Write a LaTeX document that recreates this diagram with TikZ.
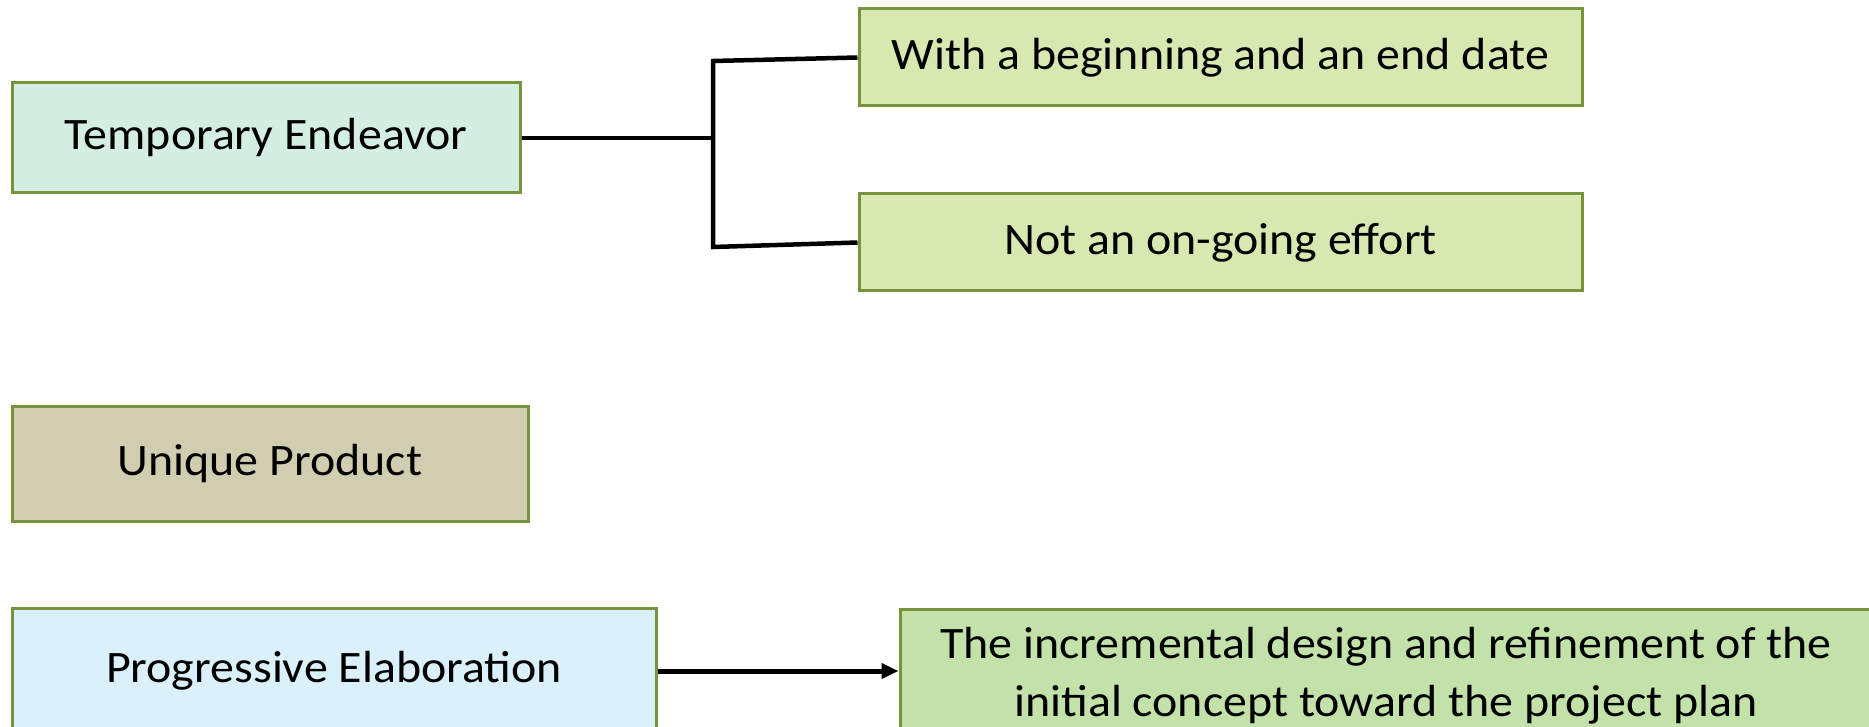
\documentclass[tikz,border=0pt]{standalone}
\usepackage{fontspec}
\setmainfont{Carlito}[FakeStretch=1.065]
\usetikzlibrary{arrows.meta}
\definecolor{boxline}{HTML}{77933C}
\definecolor{tempfill}{HTML}{D4EFE1}
\definecolor{datefill}{HTML}{D7E8B0}
\definecolor{uniqfill}{HTML}{D1CDB1}
\definecolor{progfill}{HTML}{DAF0FB}
\definecolor{incrfill}{HTML}{C2E2A9}

\begin{document}
\begin{tikzpicture}[x=1pt, y=1pt,
		box/.style={draw=boxline, line width=3pt, inner sep=0pt, align=center, font=\fontsize{45}{58}\selectfont},
		link/.style={line width=4.5pt, line join=miter}]
		\useasboundingbox (0, 0) rectangle (1869, -727);
		\node[box, fill=tempfill, minimum width=508pt, minimum height=110pt] (temp) at (266, -138) {Temporary Endeavor};
		\node[box, fill=datefill, minimum width=723pt, minimum height=97pt] (begin) at (1220.5, -57.5) {With a beginning and an end date};
		\node[box, fill=datefill, minimum width=723pt, minimum height=97pt] (ongoing) at (1220.5, -242.5) {Not an on-going effort};
		\node[box, fill=uniqfill, minimum width=516pt, minimum height=115pt] (unique) at (270, -463.5) {Unique Product};
		\node[box, fill=progfill, minimum width=644pt, minimum height=126pt] (prog) at (334, -671) {Progressive Elaboration};
		\node[box, fill=incrfill, minimum width=972pt, minimum height=134pt] (incr) at (1386, -676) {The incremental design and refinement of the\\initial concept toward the project plan};
		\coordinate (forkT) at (713, -61);
		\coordinate (forkB) at (713, -247);
		\draw[link] (temp.east) -- (temp.east -| forkT);
		\draw[link] (begin.west) -- (forkT) -- (forkB) -- (ongoing.west);
		\draw[link, line width=5pt, -{Triangle[length=17pt, width=15pt]}] (prog.east) -- (prog.east -| incr.west);
	\end{tikzpicture}
\end{document}
